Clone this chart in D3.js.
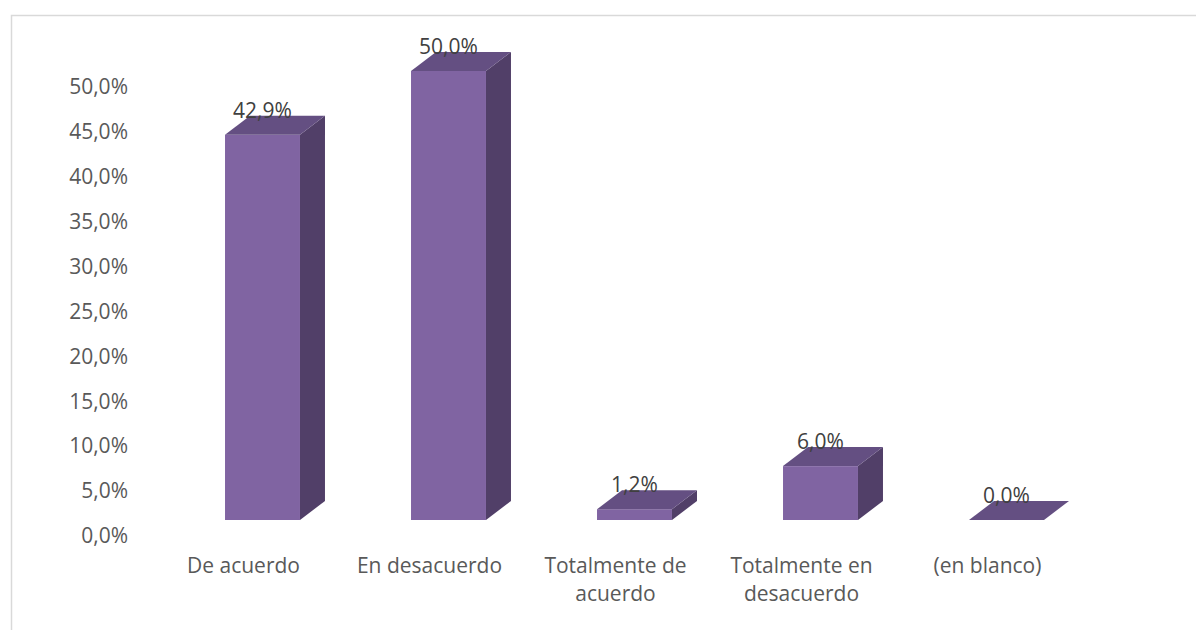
<!DOCTYPE html>
<html>
<head>
<meta charset="utf-8">
<script src="https://cdn.jsdelivr.net/npm/d3@7"></script>
<style>
  html, body { margin: 0; padding: 0; background: #ffffff; }
  svg { display: block; }
  text { font-family: "Open Sans", "Liberation Sans", sans-serif; }
</style>
</head>
<body>
<svg id="chart" width="1196" height="630"></svg>
<script>
// ---- data ----
const categories = ["De acuerdo", "En desacuerdo", "Totalmente de acuerdo", "Totalmente en desacuerdo", "(en blanco)"];
const values = [42.9, 50.0, 1.2, 6.0, 0.0];
const valueLabels = ["42,9%", "50,0%", "1,2%", "6,0%", "0,0%"];
const yTicks = [0, 5, 10, 15, 20, 25, 30, 35, 40, 45, 50];
const yTickLabels = ["0,0%", "5,0%", "10,0%", "15,0%", "20,0%", "25,0%", "30,0%", "35,0%", "40,0%", "45,0%", "50,0%"];

// ---- layout ----
const W = 1196, H = 630;
const svg = d3.select("#chart");
const depthX = 25, depthY = 19, floorShift = 16;
const colors = { front: "#8064a2", top: "#644f82", side: "#513f68" };

// chart area border
svg.append("rect")
  .attr("x", 11.5).attr("y", 15.5)
  .attr("width", W + 20).attr("height", H + 20)
  .attr("fill", "#ffffff").attr("stroke", "#d9d9d9").attr("stroke-width", 1.5);

const y = d3.scaleLinear().domain([0, 50]).range([536, 87]);
const x = d3.scaleBand().domain(categories)
  .range([169.5, 1099.5]).paddingInner(0.597).paddingOuter(0.2985);

// y axis (labels only)
const yAxis = d3.axisLeft(y).tickValues(yTicks)
  .tickFormat((d, i) => yTickLabels[i]).tickSize(0).tickPadding(0);
const gy = svg.append("g").attr("transform", "translate(128,0)").call(yAxis);
gy.select(".domain").remove();
gy.selectAll("text")
  .attr("fill", "#595959").style("font-size", "21px")
  .style("font-family", "'Open Sans', sans-serif");

// bars (3D)
const bars = svg.append("g");
categories.forEach((c, i) => {
  const v = values[i];
  const x0 = x(c), x1 = x(c) + x.bandwidth();
  const yb = y(0) - floorShift;       // front bottom
  const yt = y(v) - floorShift;       // front top
  const g = bars.append("g");
  if (v > 0) {
    // side face
    g.append("path")
      .attr("d", `M${x1},${yt} L${x1 + depthX},${yt - depthY} L${x1 + depthX},${yb - depthY} L${x1},${yb} Z`)
      .attr("fill", colors.side);
    // front face
    g.append("rect")
      .attr("x", x0).attr("y", yt).attr("width", x1 - x0).attr("height", yb - yt)
      .attr("fill", colors.front);
  }
  // top face
  g.append("path")
    .attr("d", `M${x0},${yt} L${x0 + depthX},${yt - depthY} L${x1 + depthX},${yt - depthY} L${x1},${yt} Z`)
    .attr("fill", colors.top);
  // value label
  svg.append("text")
    .attr("x", (x0 + x1) / 2).attr("y", yt - depthY + 2)
    .attr("text-anchor", "middle")
    .attr("fill", "#404040").style("font-size", "21px")
    .text(valueLabels[i]);
});

// category labels with wrapping
const maxW = 165;
categories.forEach((c, i) => {
  const cx = x(c) + x.bandwidth() / 2 - 19;
  const t = svg.append("text")
    .attr("x", cx).attr("y", 573)
    .attr("text-anchor", "middle")
    .attr("fill", "#595959").style("font-size", "21px");
  const words = c.split(" ");
  let line = [], lineNo = 0;
  let tspan = t.append("tspan").attr("x", cx).attr("dy", 0);
  words.forEach(w => {
    line.push(w);
    tspan.text(line.join(" "));
    if (tspan.node().getComputedTextLength() > maxW && line.length > 1) {
      line.pop();
      tspan.text(line.join(" "));
      line = [w];
      lineNo++;
      tspan = t.append("tspan").attr("x", cx).attr("dy", 28).text(w);
    }
  });
});
</script>
</body>
</html>
